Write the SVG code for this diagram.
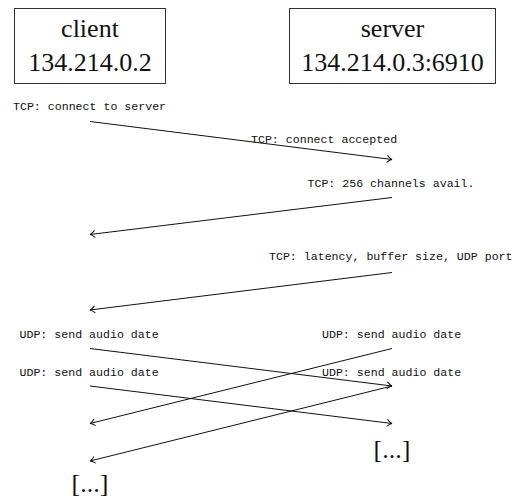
<svg xmlns="http://www.w3.org/2000/svg" width="517" height="504" viewBox="0 0 517 504">
<style>
.box{fill:#fff;stroke:#333;stroke-width:1}
.big{font-family:"Liberation Serif","DejaVu Serif",serif;font-size:26px;fill:#111;text-anchor:middle}
.tt{font-family:"Liberation Mono","DejaVu Sans Mono",monospace;font-size:11.6px;fill:#111}
.msg{fill:none;stroke:#111;stroke-width:1;marker-end:url(#ah)}
</style>
<defs>
<marker id="ah" markerWidth="10" markerHeight="10" refX="8" refY="5" orient="auto" markerUnits="userSpaceOnUse">
<path d="M3,1.5 Q6,4.5 8,5 Q6,5.5 3,8.5" fill="none" stroke="#111" stroke-width="1"/>
</marker>
</defs>
<g id="client">
<rect class="box" x="14.5" y="8.5" width="151" height="75"/>
<text class="big" x="90" y="37">client</text>
<text class="big" x="90" y="71">134.214.0.2</text>
</g>
<g id="server">
<rect class="box" x="289.5" y="8.5" width="206" height="75"/>
<text class="big" x="392.5" y="37">server</text>
<text class="big" x="392.5" y="71">134.214.0.3:6910</text>
</g>
<g id="labels">
<text class="tt" x="13" y="110">TCP: connect to server</text>
<text class="tt" x="251" y="142.5">TCP: connect accepted</text>
<text class="tt" x="307.5" y="186.5">TCP: 256 channels avail.</text>
<text class="tt" x="269" y="260">TCP: latency, buffer size, UDP port</text>
<text class="tt" x="19.5" y="337.5">UDP: send audio date</text>
<text class="tt" x="322" y="337.5">UDP: send audio date</text>
<text class="tt" x="19.5" y="375.5">UDP: send audio date</text>
<text class="tt" x="322" y="375.5">UDP: send audio date</text>
<text class="big" x="392" y="458">[...]</text>
<text class="big" x="90" y="492">[...]</text>
</g>
<g id="connectors">
<line class="msg" x1="90" y1="121.5" x2="392" y2="159.5"/>
<line class="msg" x1="392" y1="197.5" x2="90" y2="234.5"/>
<line class="msg" x1="392" y1="272.5" x2="90" y2="310"/>
<line class="msg" x1="90" y1="348.5" x2="392" y2="386"/>
<line class="msg" x1="392" y1="348.5" x2="90" y2="423.5"/>
<line class="msg" x1="90" y1="386" x2="392" y2="423.5"/>
<line class="msg" x1="392" y1="386" x2="90" y2="461"/>
</g>
</svg>
